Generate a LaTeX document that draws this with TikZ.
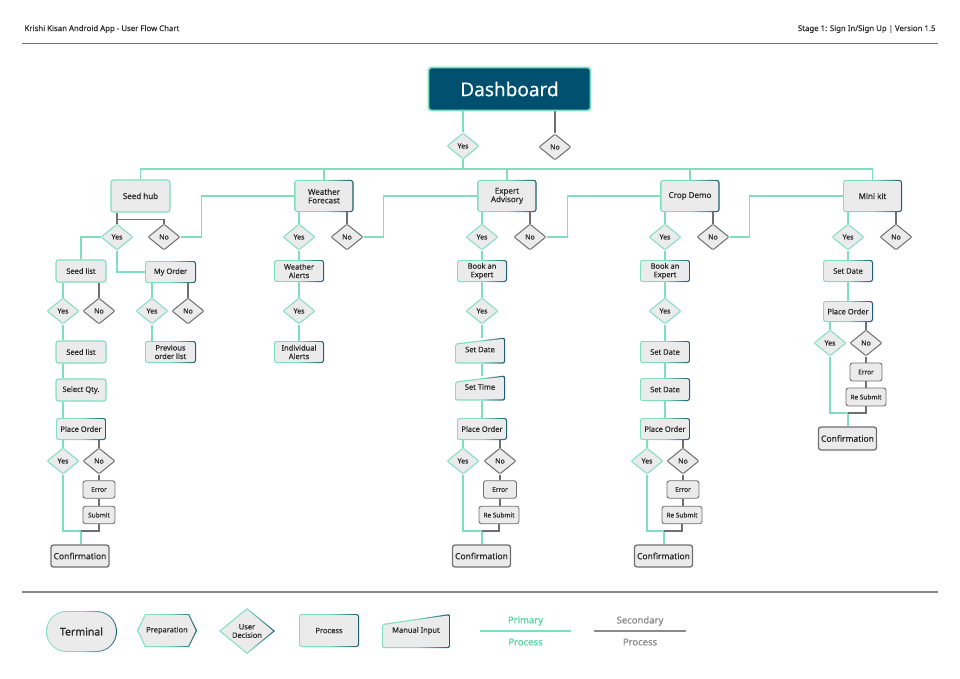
\documentclass[tikz,border=0pt]{standalone}
\usepackage{fontspec}
\setmainfont{Noto Sans}[FakeBold=0.35]
\newfontfamily\heavyfont{Noto Sans}[FakeBold=1.3]
\usetikzlibrary{shapes.geometric,shapes.symbols,backgrounds}

\definecolor{mint}{HTML}{7FDEBF}
\definecolor{deepteal}{HTML}{1B5870}
\definecolor{dashfill}{HTML}{01506F}
\definecolor{boxfill}{HTML}{EBEBEB}
\definecolor{grayline}{HTML}{6F6F6F}
\definecolor{textdark}{HTML}{2A2A2A}
\definecolor{ruleline}{HTML}{8A8A8A}
\definecolor{primtext}{HTML}{5DD3A7}
\definecolor{sectext}{HTML}{858585}

\tikzset{
  base/.style={rectangle, rounded corners=2.5pt, inner sep=1pt, align=center,
    text=textdark, font=\fontsize{7.5}{8.5}\selectfont},
  procbox/.style={base, draw=mint, line width=1.1pt, fill=boxfill,
    minimum width=50pt, minimum height=22pt},
  procgrad/.style={base, left color=mint, right color=deepteal, middle color=mint,
    minimum width=50pt, minimum height=22pt,
    path picture={\fill[boxfill, rounded corners=#1]
      ([shift={(1.1pt,-1.1pt)}]path picture bounding box.north west) rectangle
      ([shift={(-1.1pt,1.1pt)}]path picture bounding box.south east);}},
  procgrad/.default=1.5pt,
  topbox/.style={minimum width=59pt, minimum height=32pt, font=\fontsize{8}{8.5}\selectfont},
  manual/.style={rectangle, inner sep=1pt, outer sep=0pt, align=center, text=textdark,
    font=\fontsize{7.5}{8.5}\selectfont, minimum width=50pt,
    path picture={
      \shade[left color=mint, right color=deepteal, middle color=mint, rounded corners=2pt]
        (path picture bounding box.south west) -- ([yshift=-#1]path picture bounding box.north west)
        -- (path picture bounding box.north east) -- (path picture bounding box.south east) -- cycle;
      \fill[boxfill, rounded corners=1.2pt]
        ([shift={(1.1pt,1.1pt)}]path picture bounding box.south west)
        -- ([shift={(1.1pt,-#1-1.1pt)}]path picture bounding box.north west)
        -- ([shift={(-1.1pt,-1.3pt)}]path picture bounding box.north east)
        -- ([shift={(-1.1pt,1.1pt)}]path picture bounding box.south east) -- cycle;}},
  manual/.default=6pt,
  smallbox/.style={base, draw=grayline, line width=0.9pt, fill=boxfill,
    minimum height=17.5pt, font=\fontsize{6.5}{7}\selectfont},
  endbox/.style={base, draw=grayline, line width=1.3pt, fill=boxfill,
    minimum width=58pt, minimum height=22pt, font=\fontsize{8.5}{9}\selectfont},
  dashbox/.style={rectangle, rounded corners=3pt, draw=mint, line width=1.8pt, fill=dashfill,
    minimum width=162pt, minimum height=43pt, text=white, font=\fontsize{19}{20}\selectfont},
  yesdia/.style={diamond, rounded corners=1pt, draw=mint, line width=1pt, fill=boxfill,
    minimum width=32pt, minimum height=26pt, inner sep=0pt, text=textdark,
    font=\fontsize{7}{7.5}\selectfont},
  nodia/.style={yesdia, draw=grayline},
  pri/.style={draw=mint, line width=1.2pt},
  sec/.style={draw=grayline, line width=1.1pt},
}

\begin{document}
\begin{tikzpicture}[x=1pt, y=-1pt]
  \useasboundingbox (0,0) rectangle (960,679);
  %% Draw the header
  \node[anchor=west, text=textdark, font=\fontsize{7.8}{8.5}\selectfont] (title) at (21,29) {Krishi Kisan Android App - User Flow Chart};
  \node[anchor=east, text=textdark, font=\fontsize{7.8}{8.5}\selectfont] (stage) at (939,29) {Stage 1: Sign In/Sign Up | Version 1.5};
  \draw[draw=grayline, line width=0.9pt] (22,43) -- (938,43);
  %% Draw the dashboard
  \node[dashbox] (dash) at (509.5,89) {Dashboard};
  \node[yesdia] (dyes) at (463,146) {Yes};
  \node[nodia] (dno) at (555,147) {No};
  \coordinate (bus) at (463,169);
  %% Draw the features
  \node[procbox, topbox] (seedhub) at (140.5,196) {Seed hub};
  \node[procgrad, topbox] (weather) at (324,196) {Weather\\Forecast};
  \node[procgrad, topbox] (expert) at (507,196) {Expert\\Advisory};
  \node[procgrad, topbox] (crop) at (690,196) {Crop Demo};
  \node[procgrad, topbox] (minikit) at (872.5,196) {Mini kit};
  \node[yesdia] (shyes) at (117,237) {Yes};
  \node[nodia] (shno) at (164,237) {No};
  \node[yesdia] (wfyes) at (299,237) {Yes};
  \node[nodia] (wfno) at (347,237) {No};
  \node[yesdia] (exyes) at (482,237) {Yes};
  \node[nodia] (exno) at (530,237) {No};
  \node[yesdia] (cdyes) at (665,237) {Yes};
  \node[nodia] (cdno) at (713,237) {No};
  \node[yesdia] (mkyes) at (848,237) {Yes};
  \node[nodia] (mkno) at (896,237) {No};
  %% Seed hub
  \node[procbox] (seedlist) at (81,271) {Seed list};
  \node[procgrad, minimum width=51pt] (myorder) at (170.5,272) {My Order};
  \node[yesdia] (slyes) at (63,311) {Yes};
  \node[nodia] (slno) at (99,311) {No};
  \node[yesdia] (moyes) at (152,311) {Yes};
  \node[nodia] (mono) at (188,311) {No};
  \node[procbox] (seedlist2) at (81,352) {Seed list};
  \node[procgrad, minimum width=51pt] (prevorder) at (170.5,352) {Previous\\order list};
  \node[procbox] (selqty) at (81,390) {Select Qty.};
  \node[procgrad] (splace) at (81,429) {Place Order};
  \node[yesdia] (spyes) at (63,461) {Yes};
  \node[nodia] (spno) at (99,461) {No};
  \node[smallbox, minimum width=32pt] (serror) at (99,489.5) {Error};
  \node[smallbox, minimum width=32pt] (ssubmit) at (99,515) {Submit};
  \coordinate (sjoin) at (81,531);
  \node[endbox] (sconfirm) at (80,556) {Confirmation};
  %% Weather forecast
  \node[procgrad] (walerts) at (299,271) {Weather\\Alerts};
  \node[yesdia] (wayes) at (299,311) {Yes};
  \node[procgrad] (indalerts) at (299,352) {Individual\\Alerts};
  %% Expert advisory
  \node[procgrad] (ebook) at (482,271) {Book an\\Expert};
  \node[yesdia] (ebyes) at (482,311) {Yes};
  \node[manual, minimum height=26pt] (edate) at (480,350.5) {\strut Set Date};
  \node[manual, minimum height=25pt] (etime) at (480,388) {\strut Set Time};
  \node[procgrad] (eplace) at (482,429) {Place Order};
  \node[yesdia] (epyes) at (463,461) {Yes};
  \node[nodia] (epno) at (500,461) {No};
  \node[smallbox, minimum width=33pt] (eerror) at (500,489.5) {Error};
  \node[smallbox, minimum width=40pt] (eresub) at (499,515) {Re Submit};
  \coordinate (ejoin) at (482,531);
  \node[endbox] (econfirm) at (481.5,556) {Confirmation};
  %% Crop demo
  \node[procgrad] (cbook) at (665,271) {Book an\\Expert};
  \node[yesdia] (cbyes) at (665,311) {Yes};
  \node[procgrad] (cdate) at (665,352) {Set Date};
  \node[procgrad, minimum height=23pt] (cdate2) at (665,389.5) {Set Date};
  \node[procgrad] (cplace) at (665,429) {Place Order};
  \node[yesdia] (cpyes) at (647,461) {Yes};
  \node[nodia] (cpno) at (683,461) {No};
  \node[smallbox, minimum width=32pt] (cerror) at (683,489.5) {Error};
  \node[smallbox, minimum width=40pt] (cresub) at (682,515) {Re Submit};
  \coordinate (cjoin) at (664,531);
  \node[endbox] (cconfirm) at (663.5,556) {Confirmation};
  %% Mini kit
  \node[procgrad] (mdate) at (848,271) {Set Date};
  \node[procgrad, minimum height=21pt] (mplace) at (848,311.5) {Place Order};
  \node[yesdia] (mpyes) at (830,343) {Yes};
  \node[nodia] (mpno) at (866,343) {No};
  \node[smallbox, minimum width=32pt, minimum height=18pt] (merror) at (866,372) {Error};
  \node[smallbox, minimum width=40pt, minimum height=18pt] (mresub) at (866,397) {Re Submit};
  \coordinate (mjoin) at (848,413);
  \node[endbox, minimum height=23pt] (mconfirm) at (847.5,438.5) {Confirmation};
  %% Draw the primary edges
  \begin{scope}[on background layer, every path/.style={pri}]
    \draw (dash.south -| dyes) -- (dyes.north);
    \draw (dyes.south) -- (bus);
    \draw (seedhub.north) |- (bus);
    \draw (weather.north) |- (bus);
    \draw (expert.north) |- (bus);
    \draw (crop.north) |- (bus);
    \draw (minikit.north) |- (bus);
    \draw (shno.east) -- ++(21,0) |- (weather.west);
    \draw (wfno.east) -- ++(20,0) |- (expert.west);
    \draw (exno.east) -- ++(21,0) |- (crop.west);
    \draw (cdno.east) -- ++(20,0) |- (minikit.west);
    % seed hub
    \draw (shyes.west) -| (seedlist.north);
    \draw (shyes.south) |- (myorder.west);
    \draw (seedlist.south -| slyes) -- (slyes.north);
    \draw (slyes.south) -- (seedlist2.north -| slyes);
    \draw (seedlist2.south -| slyes) -- (selqty.north -| slyes);
    \draw (selqty.south -| slyes) -- (splace.north -| slyes);
    \draw (splace.south -| spyes) -- (spyes.north);
    \draw (spyes.south) |- (sjoin);
    \draw (sjoin) -- (sconfirm.north -| sjoin);
    \draw (myorder.south -| moyes) -- (moyes.north);
    \draw (moyes.south) -- (prevorder.north -| moyes);
    % weather
    \draw (weather.south -| wfyes) -- (wfyes.north);
    \draw (wfyes.south) -- (walerts.north);
    \draw (walerts.south) -- (wayes.north);
    \draw (wayes.south) -- (indalerts.north);
    % expert
    \draw (expert.south -| exyes) -- (exyes.north);
    \draw (exyes.south) -- (ebook.north);
    \draw (ebook.south) -- (ebyes.north);
    \draw (ebyes.south) -- (edate.north -| ebyes);
    \draw (edate.south -| ebyes) -- (etime.north -| ebyes);
    \draw (etime.south -| ebyes) -- (eplace.north);
    \draw (eplace.south -| epyes) -- (epyes.north);
    \draw (epyes.south) |- (ejoin);
    \draw (ejoin) -- (econfirm.north -| ejoin);
    % crop demo
    \draw (crop.south -| cdyes) -- (cdyes.north);
    \draw (cdyes.south) -- (cbook.north);
    \draw (cbook.south) -- (cbyes.north);
    \draw (cbyes.south) -- (cdate.north);
    \draw (cdate.south) -- (cdate2.north);
    \draw (cdate2.south) -- (cplace.north);
    \draw (cplace.south -| cpyes) -- (cpyes.north);
    \draw (cpyes.south) |- (cjoin);
    \draw (cjoin) -- (cconfirm.north -| cjoin);
    % mini kit
    \draw (minikit.south -| mkyes) -- (mkyes.north);
    \draw (mkyes.south) -- (mdate.north);
    \draw (mdate.south) -- (mplace.north);
    \draw (mplace.south -| mpyes) -- (mpyes.north);
    \draw (mpyes.south) |- (mjoin);
    \draw (mjoin) -- (mconfirm.north -| mjoin);
  \end{scope}
  %% Draw the secondary edges
  \begin{scope}[on background layer, every path/.style={sec}]
    \draw (dash.south -| dno) -- (dno.north);
    \draw (seedhub.south -| shyes) -- (shyes.north);
    \draw ([yshift=-7pt]seedhub.south -| shyes) -| (shno.north);
    \draw (seedlist.south -| slno) -- (slno.north);
    \draw (myorder.south -| mono) -- (mono.north);
    \draw (splace.south -| spno) -- (spno.north);
    \draw (spno.south) -- (serror.north);
    \draw (serror.south) -- (ssubmit.north);
    \draw (ssubmit.south) |- (sjoin);
    \draw (weather.south -| wfno) -- (wfno.north);
    \draw (expert.south -| exno) -- (exno.north);
    \draw (eplace.south -| epno) -- (epno.north);
    \draw (epno.south) -- (eerror.north);
    \draw (eerror.south) -- (eresub.north -| eerror);
    \draw (eresub.south) |- (ejoin);
    \draw (crop.south -| cdno) -- (cdno.north);
    \draw (cplace.south -| cpno) -- (cpno.north);
    \draw (cpno.south) -- (cerror.north);
    \draw (cerror.south) -- (cresub.north -| cerror);
    \draw (cresub.south) |- (cjoin);
    \draw (minikit.south -| mkno) -- (mkno.north);
    \draw (mplace.south -| mpno) -- (mpno.north);
    \draw (mpno.south) -- (merror.north);
    \draw (merror.south) -- (mresub.north);
    \draw (mresub.south) |- (mjoin);
  \end{scope}
  %% Draw the legend
  \draw[draw=ruleline, line width=1.2pt] (22,592) -- (938,592);
  \node[procgrad=19pt, rounded corners=20.5pt, minimum width=71pt, minimum height=41pt,
    font=\fontsize{10.5}{11}\heavyfont] (lterminal) at (81.5,631.5) {Terminal};
  \node[signal, signal to=west and east, signal pointer angle=128, minimum width=60pt,
    minimum height=33pt, inner sep=0pt, left color=mint, right color=deepteal, middle color=mint,
    text=textdark, font=\fontsize{7.5}{8.5}\selectfont,
    path picture={\fill[boxfill]
      ([xshift=1.3pt]path picture bounding box.west)
      -- ([shift={(8.7pt,-1.1pt)}]path picture bounding box.north west)
      -- ([shift={(-8.7pt,-1.1pt)}]path picture bounding box.north east)
      -- ([xshift=-1.3pt]path picture bounding box.east)
      -- ([shift={(-8.7pt,1.1pt)}]path picture bounding box.south east)
      -- ([shift={(8.7pt,1.1pt)}]path picture bounding box.south west) -- cycle;}]
    (lprep) at (167,630.5) {Preparation};
  \node[diamond, minimum width=56pt, minimum height=46pt, inner sep=0pt, align=center,
    left color=mint, right color=deepteal, middle color=mint,
    text=textdark, font=\fontsize{7.5}{8.5}\selectfont,
    path picture={\fill[boxfill]
      ([yshift=-1.5pt]path picture bounding box.north)
      -- ([xshift=-1.8pt]path picture bounding box.east)
      -- ([yshift=1.5pt]path picture bounding box.south)
      -- ([xshift=1.8pt]path picture bounding box.west) -- cycle;}]
    (ldecision) at (247,631) {User\\Decision};
  \node[procgrad, minimum width=60pt, minimum height=33pt] (lprocess) at (329,630.5) {Process};
  \node[manual=10pt, minimum width=68pt, minimum height=34pt] (lmanual) at (416,631) {\strut Manual Input};
  \node[text=primtext, font=\fontsize{9.5}{10}\heavyfont] (lprimary) at (525.5,621) {Primary};
  \node[text=primtext, font=\fontsize{9.5}{10}\heavyfont] (lprimproc) at (525.5,642) {Process};
  \draw[draw=mint, line width=1.8pt] (480,631) -- (571,631);
  \node[text=sectext, font=\fontsize{9.5}{10}\selectfont] (lsecondary) at (640,621) {Secondary};
  \node[text=sectext, font=\fontsize{9.5}{10}\selectfont] (lsecproc) at (640,642) {Process};
  \draw[draw=ruleline, line width=1.8pt] (594,631) -- (686,631);
\end{tikzpicture}
\end{document}
